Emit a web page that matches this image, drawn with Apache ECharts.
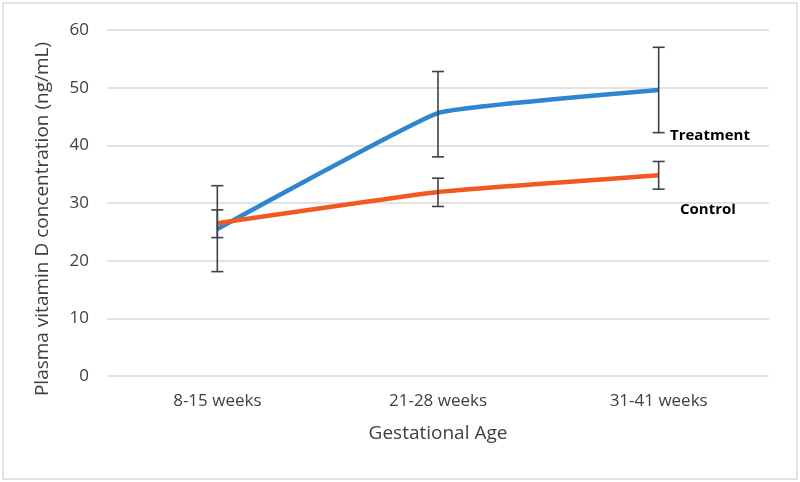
<!DOCTYPE html>
<html>
<head>
<meta charset="utf-8">
<script src="https://cdn.jsdelivr.net/npm/echarts@6/dist/echarts.min.js"></script>
<style>
html,body{margin:0;padding:0;background:#fff;}
#chart{width:800px;height:482px;}
</style>
</head>
<body>
<div id="chart"></div>
<script>
const categories = ['8-15 weeks', '21-28 weeks', '31-41 weeks'];
const treatment = [25.5, 45.6, 49.6];
const treatmentLow = [18.1, 38.0, 42.2];
const treatmentHigh = [33.0, 52.8, 57.0];
const control = [26.5, 31.9, 34.8];
const controlLow = [24.0, 29.4, 32.4];
const controlHigh = [28.8, 34.3, 37.2];
const yTicks = [0, 10, 20, 30, 40, 50, 60];
const yTitle = 'Plasma vitamin D concentration (ng/mL)';
const xTitle = 'Gestational Age';

const font = '"Open Sans", sans-serif';

function errData(lo, hi) {
  return categories.map((c, i) => [i, lo[i], hi[i]]);
}
function errRender(params, api) {
  const x = api.value(0);
  const lo = api.coord([x, api.value(1)]);
  const hi = api.coord([x, api.value(2)]);
  const w = 6;
  const style = { stroke: '#404040', lineWidth: 1.6 };
  return {
    type: 'group',
    children: [
      { type: 'line', shape: { x1: lo[0], y1: lo[1], x2: hi[0], y2: hi[1] }, style },
      { type: 'line', shape: { x1: lo[0] - w, y1: lo[1], x2: lo[0] + w, y2: lo[1] }, style },
      { type: 'line', shape: { x1: hi[0] - w, y1: hi[1], x2: hi[0] + w, y2: hi[1] }, style }
    ]
  };
}

const chart = echarts.init(document.getElementById('chart'), null, { renderer: 'canvas' });
chart.setOption({
  animation: false,
  backgroundColor: '#ffffff',
  grid: { left: 107, right: 31, top: 30, bottom: 106 },
  xAxis: {
    type: 'category',
    data: categories,
    boundaryGap: true,
    axisLine: { show: false },
    axisTick: { show: false },
    axisLabel: { color: '#404040', fontFamily: font, fontSize: 17, margin: 17 },
    name: xTitle,
    nameLocation: 'middle',
    nameGap: 48,
    nameTextStyle: { color: '#404040', fontFamily: font, fontSize: 19 }
  },
  yAxis: {
    type: 'value',
    min: yTicks[0],
    max: yTicks[yTicks.length - 1],
    interval: 10,
    axisLine: { show: false },
    axisTick: { show: false },
    splitLine: { lineStyle: { color: '#d9d9d9', width: 1.5 } },
    axisLabel: { color: '#404040', fontFamily: font, fontSize: 17, margin: 18 }
  },
  series: [
    {
      name: 'Treatment', type: 'line', data: treatment, smooth: 0.1,
      symbol: 'none', lineStyle: { color: '#2e86d0', width: 4.5 }, z: 3
    },
    {
      name: 'Control', type: 'line', data: control, smooth: 0.1,
      symbol: 'none', lineStyle: { color: '#f05a22', width: 4.5 }, z: 4
    },
    { type: 'custom', renderItem: errRender, data: errData(treatmentLow, treatmentHigh), z: 5,
      encode: { x: 0, y: [1, 2] } },
    { type: 'custom', renderItem: errRender, data: errData(controlLow, controlHigh), z: 5,
      encode: { x: 0, y: [1, 2] } }
  ],
  graphic: [
    { type: 'rect', shape: { x: 3, y: 3, width: 794, height: 476 },
      style: { fill: 'none', stroke: '#d9d9d9', lineWidth: 1.5 }, silent: true, z: -1 },
    { type: 'text', x: 43, y: 219, rotation: Math.PI / 2,
      style: { text: yTitle, fill: '#404040', font: '19px "Open Sans", sans-serif',
               textAlign: 'center', textVerticalAlign: 'middle' } },
    { type: 'text', left: 670, top: 128,
      style: { text: 'Treatment', fill: '#000', font: 'bold 15px "Open Sans", sans-serif' } },
    { type: 'text', left: 680, top: 202,
      style: { text: 'Control', fill: '#000', font: 'bold 15px "Open Sans", sans-serif' } }
  ]
});
</script>
</body>
</html>
